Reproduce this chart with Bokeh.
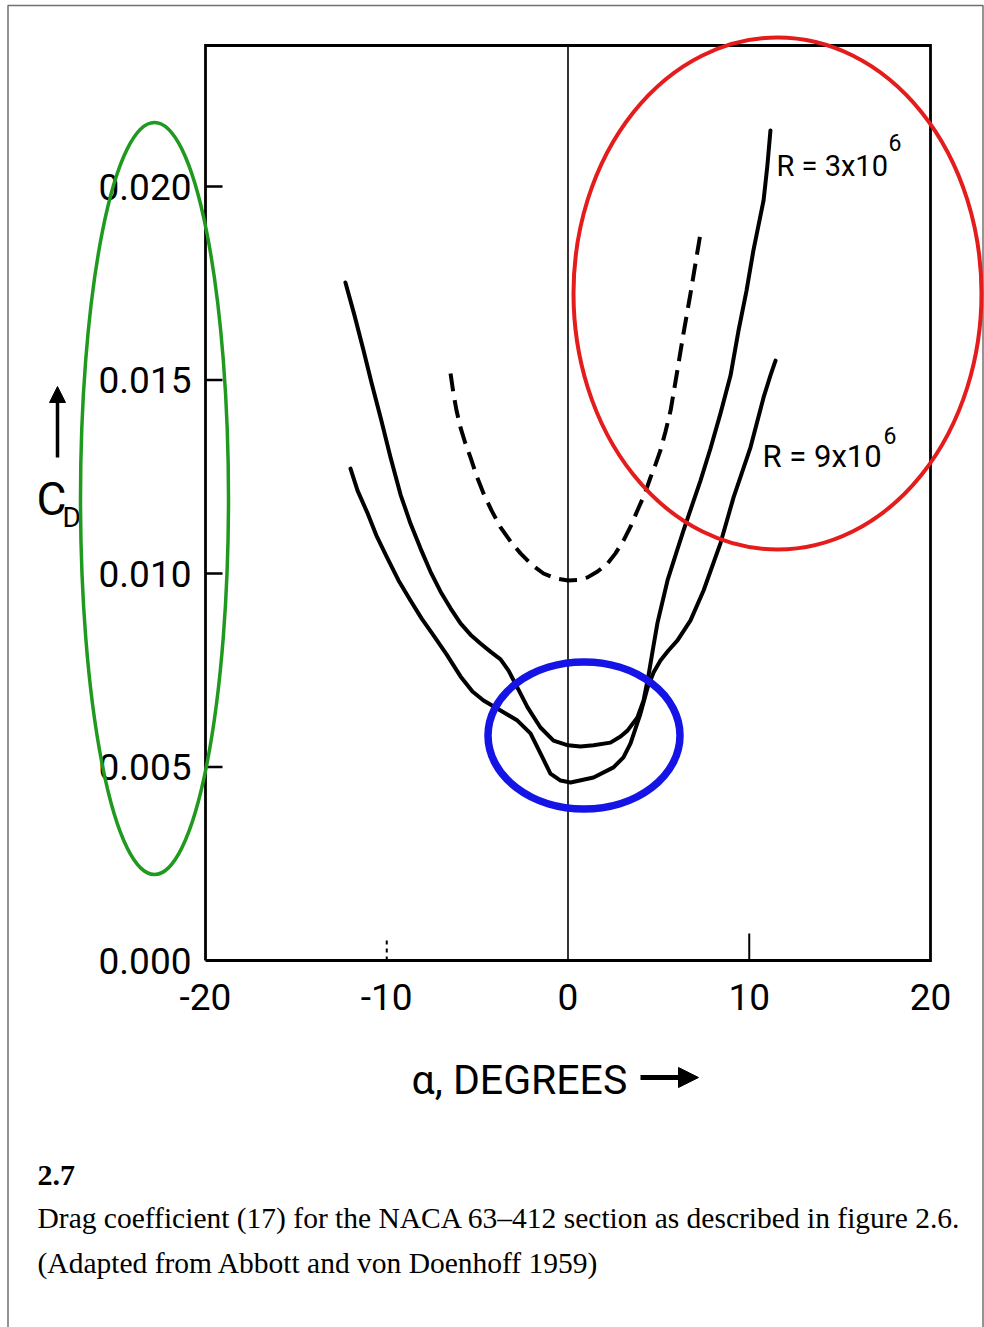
from bokeh.plotting import figure
from bokeh.models import Range1d, Arrow, NormalHead
from bokeh.core.properties import value
from bokeh.embed import file_html
from bokeh.resources import INLINE

# ---------------- data ----------------
# R = 3x10^6 curve (angle of attack in degrees, drag coefficient)
alpha_r3 = [-12.28, -11.78, -11.28, -10.83, -10.34, -9.79, -9.24, -8.69, -8.14, -7.59,
            -7.03, -6.48, -5.93, -5.38, -4.83, -4.28, -3.72, -3.28, -2.79, -2.23,
            -1.52, -0.80, 0.00, 0.69, 1.41, 2.34, 2.90, 3.28, 3.83, 4.17,
            4.44, 4.72, 4.94, 5.49, 5.93, 6.37, 7.31, 7.86, 8.41, 8.97,
            9.41, 9.85, 10.23, 10.79, 11.00, 11.17]
cd_r3 = [0.01752, 0.01667, 0.01576, 0.01491, 0.01403, 0.01300, 0.01204, 0.01129, 0.01065, 0.01005,
         0.00953, 0.00910, 0.00871, 0.00842, 0.00819, 0.00798, 0.00778, 0.00749, 0.00705, 0.00654,
         0.00602, 0.00568, 0.00556, 0.00553, 0.00556, 0.00563, 0.00579, 0.00594, 0.00628, 0.00672,
         0.00736, 0.00814, 0.00873, 0.00982, 0.01047, 0.01111, 0.01240, 0.01323, 0.01413, 0.01512,
         0.01628, 0.01731, 0.01835, 0.01964, 0.02054, 0.02145]

# R = 9x10^6 curve
alpha_r9 = [-12.00, -11.61, -11.08, -10.57, -9.98, -9.35, -8.69, -8.08, -7.42, -6.70,
            -5.93, -5.27, -4.66, -3.72, -2.79, -2.07, -1.52, -0.97, -0.41, 0.14,
            1.41, 2.51, 3.06, 3.45, 4.00, 4.39, 4.72, 5.10, 5.54, 6.04,
            6.76, 7.48, 8.41, 9.13, 10.07, 10.79, 11.17, 11.45]
cd_r9 = [0.01271, 0.01214, 0.01158, 0.01098, 0.01041, 0.00982, 0.00930, 0.00884, 0.00840, 0.00791,
         0.00734, 0.00695, 0.00672, 0.00646, 0.00620, 0.00587, 0.00535, 0.00483, 0.00465, 0.00460,
         0.00473, 0.00499, 0.00525, 0.00561, 0.00638, 0.00705, 0.00744, 0.00775, 0.00801, 0.00827,
         0.00879, 0.00956, 0.01078, 0.01196, 0.01326, 0.01455, 0.01512, 0.01550]

# dashed curve
alpha_dash = [-6.48, -6.32, -6.15, -5.93, -5.66, -5.38, -5.05, -4.66, -4.22, -3.72,
              -3.17, -2.62, -2.01, -1.35, -0.69, 0.00, 0.52, 1.08, 1.63, 2.18,
              2.62, 3.06, 3.45, 3.83, 4.22, 4.55, 4.83, 5.10, 5.38, 5.66,
              6.00, 6.37, 6.76, 7.31]
cd_dash = [0.01517, 0.01465, 0.01421, 0.01377, 0.01336, 0.01300, 0.01253, 0.01207, 0.01163, 0.01119,
           0.01083, 0.01052, 0.01023, 0.01000, 0.00987, 0.00982, 0.00983, 0.00990, 0.01005, 0.01026,
           0.01052, 0.01085, 0.01121, 0.01163, 0.01204, 0.01248, 0.01282, 0.01318, 0.01367, 0.01421,
           0.01515, 0.01620, 0.01724, 0.01879]

x_ticks = [-20, -10, 0, 10, 20]
x_tick_labels = ["-20", "-10", "0", "10", "20"]
y_ticks = [0.000, 0.005, 0.010, 0.015, 0.020]
y_tick_labels = ["0.000", "0.005", "0.010", "0.015", "0.020"]

# ---------------- layout ----------------
W, H = 984, 1327
FL, FR, FT, FB = 205.0, 930.0, 45.0, 960.0   # chart frame on the page (px)
X_LO, X_HI = -20.0, 20.0
PX_PER_X = (FR - FL) / (X_HI - X_LO)
PX_PER_Y = 38700.0                            # px per unit of C_D
Y_LO = 0.0
Y_HI = (FB - FT) / PX_PER_Y


def dx(px):
    return X_LO + (px - FL) / PX_PER_X


def dy(py):
    return Y_LO + (FB - py) / PX_PER_Y


p = figure(width=W, height=H, x_range=Range1d(dx(0), dx(W)), y_range=Range1d(dy(H), dy(0)),
           x_axis_type=None, y_axis_type=None, toolbar_location=None, output_backend="svg",
           min_border=0, background_fill_color="white", border_fill_color="white")
p.outline_line_color = None
p.grid.visible = False

FONT = value("Roboto")

# page border
p.line([dx(7.5), dx(7.5), dx(982.5), dx(982.5)], [dy(H + 5), dy(5), dy(5), dy(H + 5)],
       line_color="#707070", line_width=1.5)

# chart frame
p.line([X_LO, X_LO, X_HI, X_HI, X_LO], [Y_LO, Y_HI, Y_HI, Y_LO, Y_LO],
       line_color="black", line_width=2.8, line_join="miter")
# zero-angle line
p.line([0, 0], [Y_LO, Y_HI], line_color="black", line_width=1.6)

# y ticks (inward) and labels
ytick_len = 17 / PX_PER_X
p.segment(x0=[X_LO] * 4, y0=y_ticks[1:], x1=[X_LO + ytick_len] * 4, y1=y_ticks[1:],
          line_color="black", line_width=2.5)
p.text(x=[X_LO] * len(y_ticks), y=y_ticks, text=y_tick_labels, x_offset=-14,
       text_font=FONT, text_font_size="37px", text_align="right", text_baseline="middle",
       text_color="black")

# x ticks (inward) and labels
p.segment(x0=[x_ticks[1]], y0=[Y_LO], x1=[x_ticks[1]], y1=[Y_LO + 24 / PX_PER_Y],
          line_color="black", line_width=2, line_dash="4 4")
p.segment(x0=[x_ticks[3]], y0=[Y_LO], x1=[x_ticks[3]], y1=[Y_LO + 27 / PX_PER_Y],
          line_color="black", line_width=2)
p.text(x=x_ticks, y=[Y_LO] * len(x_ticks), text=x_tick_labels, y_offset=23,
       text_font=FONT, text_font_size="37px", text_align="center", text_baseline="top",
       text_color="black")

# curves
p.line(alpha_r3, cd_r3, line_color="black", line_width=4, line_join="round", line_cap="round")
p.line(alpha_r9, cd_r9, line_color="black", line_width=4, line_join="round", line_cap="round")
p.line(alpha_dash, cd_dash, line_color="black", line_width=4, line_dash="18 9", line_join="round")

# curve labels
p.text(x=[dx(776)], y=[dy(165)], text=["R = 3x10"],
       text_font=FONT, text_font_size="29px", text_align="left", text_baseline="middle",
       text_color="black")
p.text(x=[dx(762)], y=[dy(456)], text=["R = 9x10"],
       text_font=FONT, text_font_size="31px", text_align="left", text_baseline="middle",
       text_color="black")
p.text(x=[dx(888), dx(883)], y=[dy(142), dy(435)], text=["6", "6"],
       text_font=FONT, text_font_size="23px", text_align="left", text_baseline="middle",
       text_color="black")

# axis titles
p.text(x=[dx(411)], y=[dy(1079)], text=["\u03b1, DEGREES"], text_font=FONT,
       text_font_size="41px", text_align="left", text_baseline="middle", text_color="black")
p.add_layout(Arrow(end=NormalHead(size=20, fill_color="black", line_color="black"),
                   x_start=dx(640), y_start=dy(1077), x_end=dx(698), y_end=dy(1077),
                   line_width=5, line_color="black"))
p.text(x=[dx(36)], y=[dy(498)], text=["C"], text_font=FONT, text_font_size="46px",
       text_align="left", text_baseline="middle", text_color="black")
p.text(x=[dx(62)], y=[dy(517)], text=["D"], text_font=FONT, text_font_size="28px",
       text_align="left", text_baseline="middle", text_color="black")
p.add_layout(Arrow(end=NormalHead(size=16, fill_color="black", line_color="black"),
                   x_start=dx(57), y_start=dy(457), x_end=dx(57), y_end=dy(386),
                   line_width=3.5, line_color="black"))

# highlight ellipses
p.ellipse(x=[dx(154)], y=[dy(498)], width=148, height=752, width_units="screen",
          height_units="screen", fill_color=None, line_color="#1f9a1f", line_width=3.5)
p.ellipse(x=[dx(777)], y=[dy(293)], width=408, height=512, width_units="screen",
          height_units="screen", fill_color=None, line_color="#e51c1c", line_width=4)
p.ellipse(x=[dx(583.5)], y=[dy(735)], width=192, height=147, width_units="screen",
          height_units="screen", fill_color=None, line_color="#1414e6", line_width=7.5)

# caption
SERIF = value("Liberation Serif")
p.text(x=[dx(37)], y=[dy(1175)], text=["2.7"], text_font=SERIF, text_font_size="30px",
       text_font_style="bold", text_align="left", text_baseline="middle", text_color="black")
p.text(x=[dx(37), dx(37)], y=[dy(1217), dy(1262)],
       text=["Drag coefficient (17) for the NACA 63\u2013412 section as described in figure 2.6.",
             "(Adapted from Abbott and von Doenhoff 1959)"],
       text_font=SERIF, text_font_size="29.5px", text_align="left", text_baseline="middle",
       text_color="black")

open("out.html", "w").write(file_html(p, INLINE))
